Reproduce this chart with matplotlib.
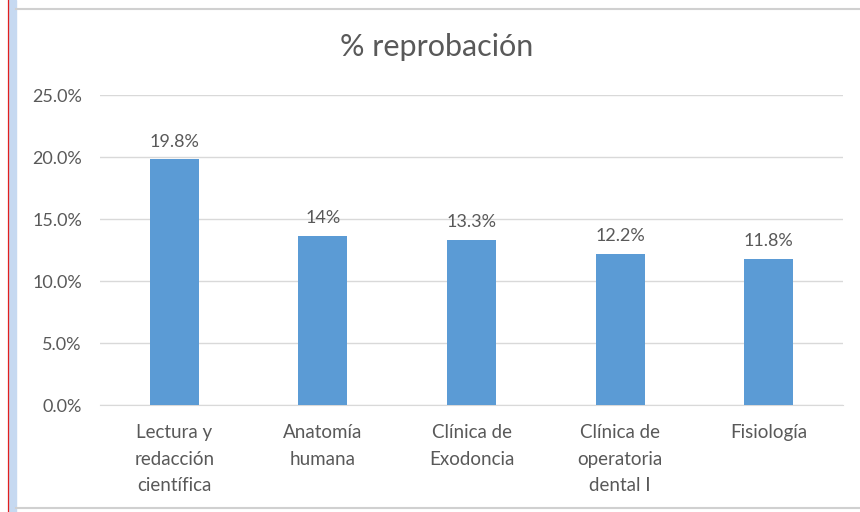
import matplotlib.pyplot as plt
import matplotlib.ticker as mtick
from matplotlib.patches import Rectangle
from matplotlib.lines import Line2D

# datos del grafico
categorias = ['Lectura y\nredacción\ncientífica', 'Anatomía\nhumana', 'Clínica de\nExodoncia',
              'Clínica de\noperatoria\ndental I', 'Fisiología']
valores = [0.198, 0.136, 0.133, 0.122, 0.118]
etiquetas = ['19.8%', '14%', '13.3%', '12.2%', '11.8%']
yticks = [0.0, 0.05, 0.10, 0.15, 0.20, 0.25]

gris = '#595959'
plt.rcParams['font.family'] = ['Lato', 'DejaVu Sans']

fig = plt.figure(figsize=(8.6, 5.12), dpi=100)
ax = fig.add_axes([100/860, 1 - 405/512, 743/860, 310/512])

# marco de la hoja (linea roja, franja azul, borde gris)
fig.add_artist(Rectangle((9/860, 0), 7/860, 1, transform=fig.transFigure, color='#C6D9F1', zorder=0))
fig.add_artist(Line2D([8/860, 8/860], [0, 1], transform=fig.transFigure, color='#E02020', lw=0.9))
fig.add_artist(Line2D([16/860, 1], [1 - 8.5/512, 1 - 8.5/512], transform=fig.transFigure, color='#D0D0D0', lw=1.5))
fig.add_artist(Line2D([16/860, 1], [1 - 508/512, 1 - 508/512], transform=fig.transFigure, color='#D0D0D0', lw=1.5))

x = range(len(categorias))
ax.bar(x, valores, width=0.33, color='#5B9BD5', zorder=3)
for i, v in enumerate(valores):
    ax.text(i, v + 0.008, etiquetas[i], ha='center', va='bottom', fontsize=13, color=gris)

ax.set_xlim(-0.5, len(categorias) - 0.5)
ax.set_ylim(0, 0.25)
ax.set_yticks(yticks)
ax.yaxis.set_major_formatter(mtick.PercentFormatter(1.0, decimals=1))
ax.set_xticks(list(x))
ax.set_xticklabels(categorias, fontsize=13.5, color=gris, linespacing=1.65, va='top')
ax.tick_params(axis='y', labelsize=13, colors=gris, length=0, pad=13)
ax.tick_params(axis='x', length=0, pad=14)
ax.grid(axis='y', color='#D9D9D9', lw=1, zorder=0)
for s in ['top', 'right', 'left']:
    ax.spines[s].set_visible(False)
ax.spines['bottom'].set_color('#D9D9D9')

fig.text(437/860, 1 - 47/512, '% reprobación', ha='center', va='center', fontsize=22, color=gris)

fig.savefig('out.png', dpi=100)
